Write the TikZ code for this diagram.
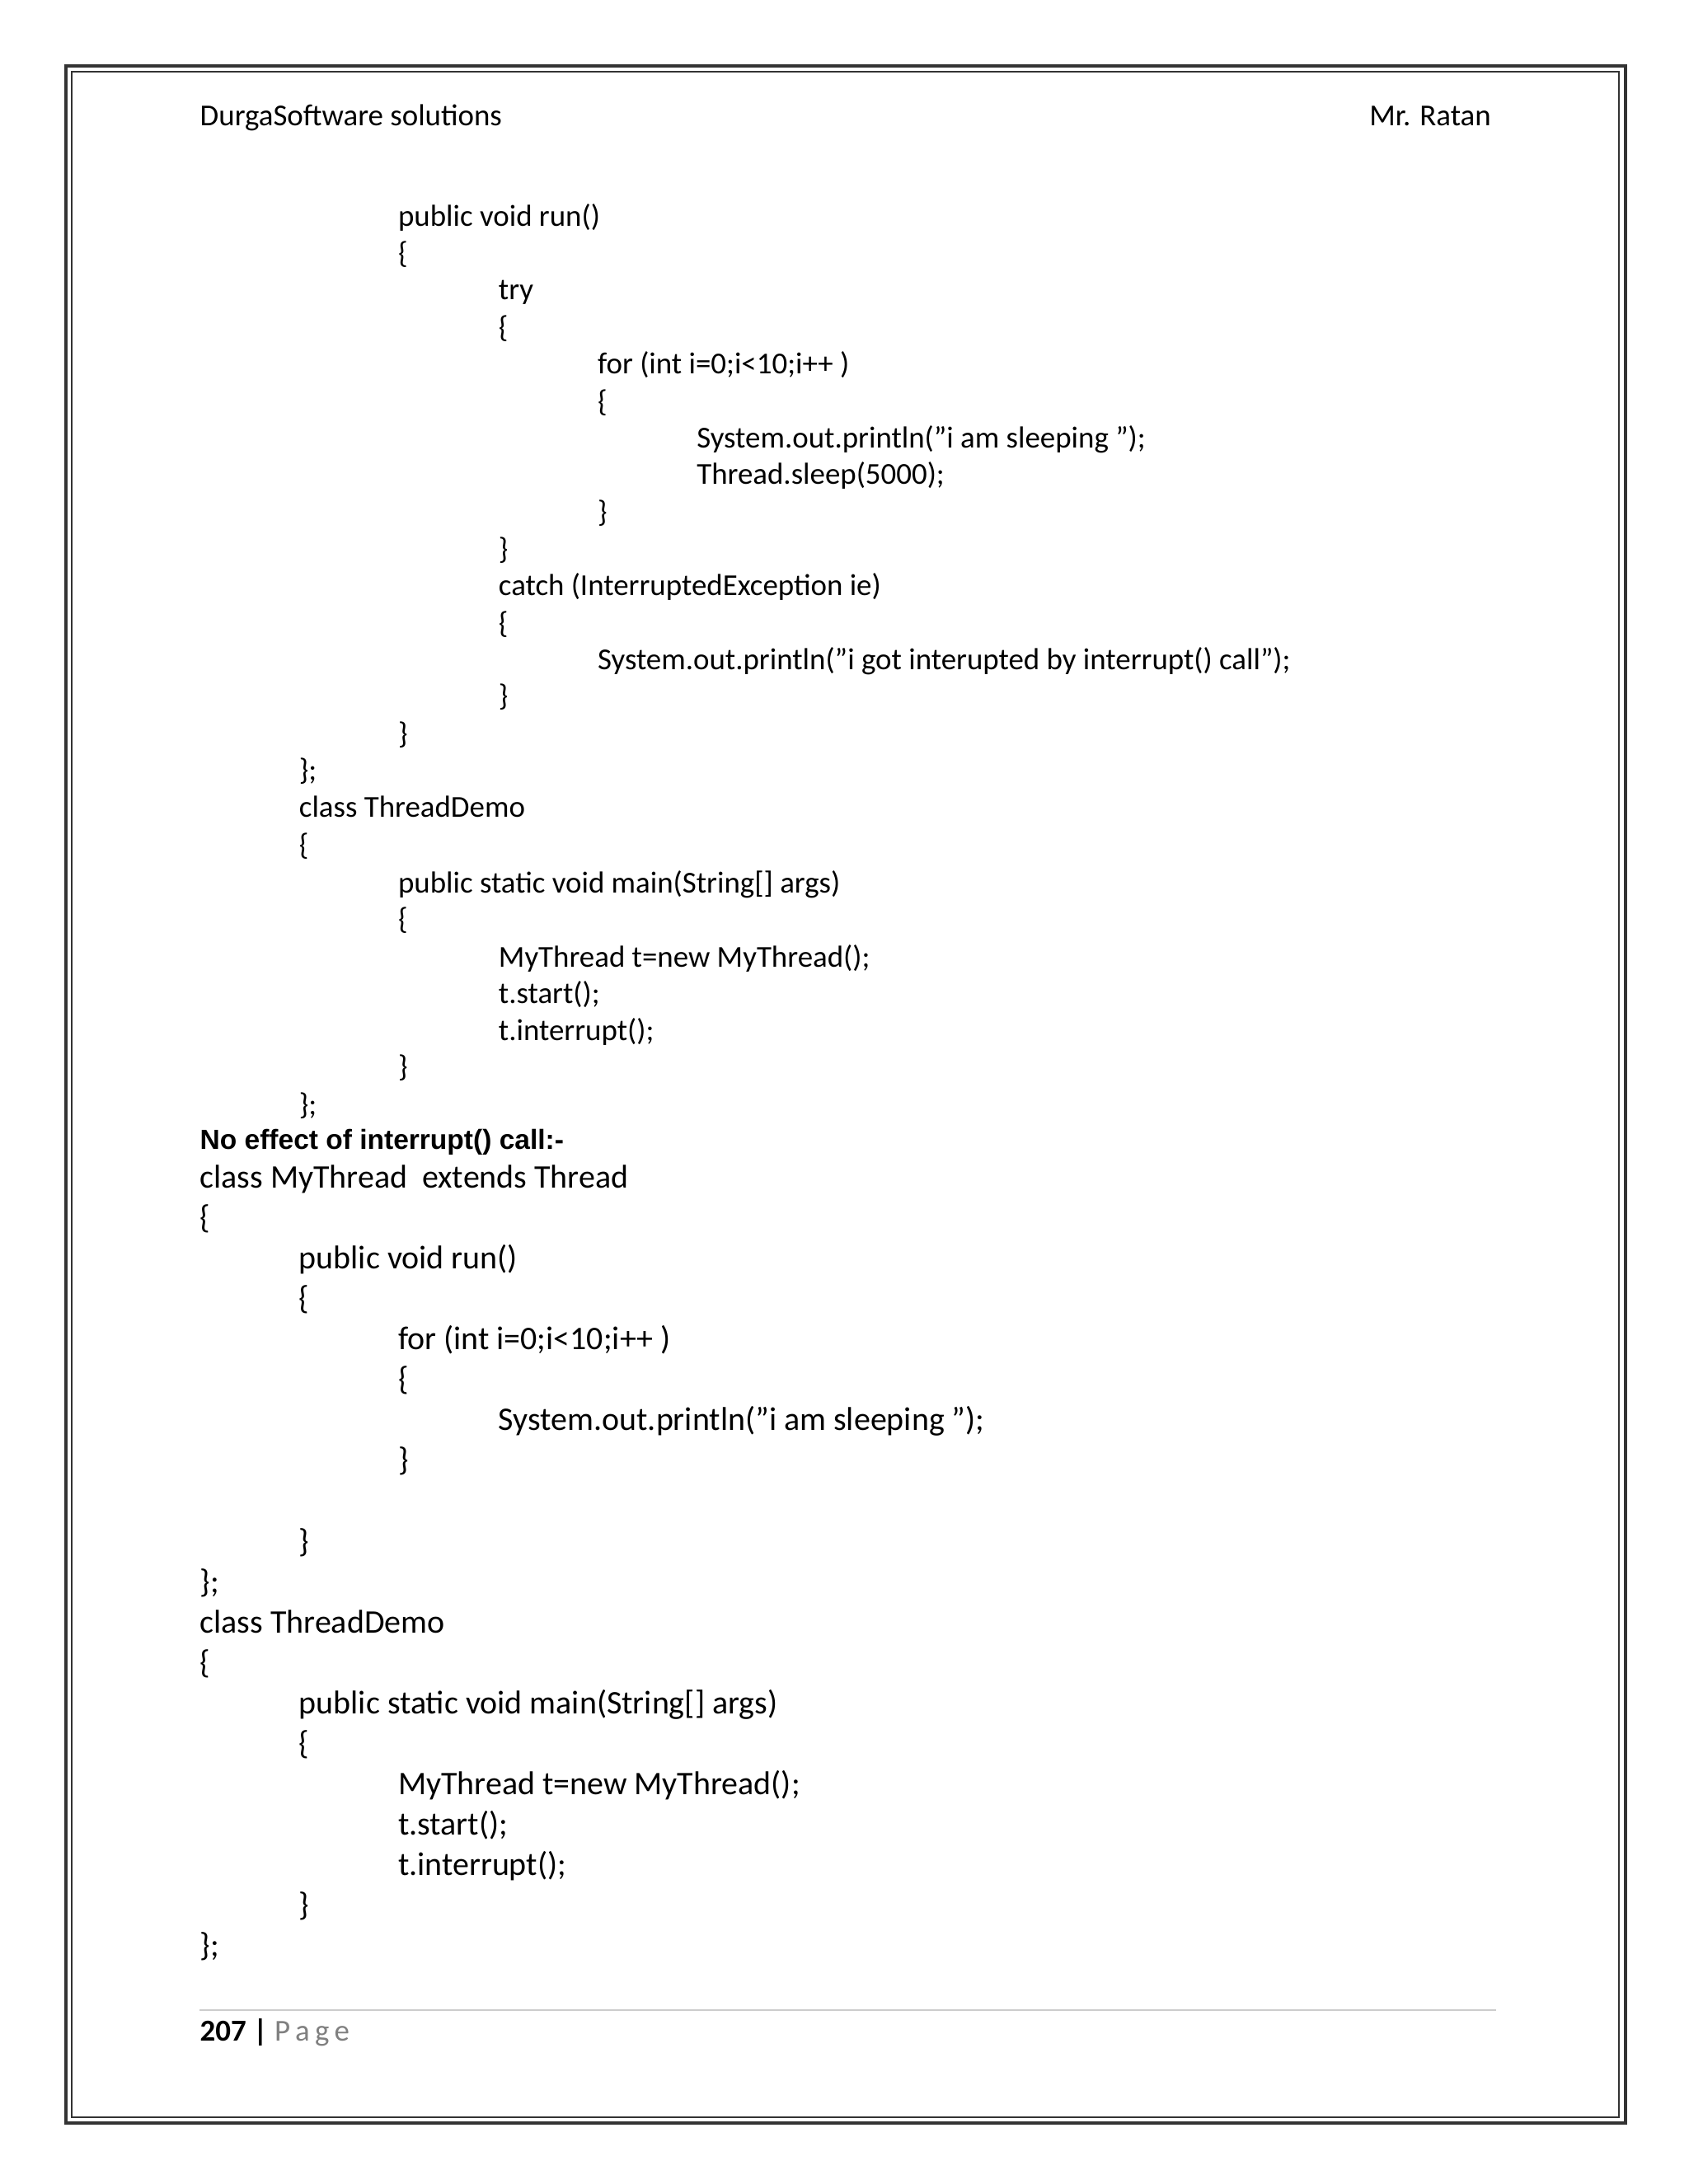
\documentclass[tikz,border=0pt]{standalone}
\usepackage{fontspec}
\setmainfont{Carlito}
\newfontfamily\arialb{Liberation Sans}
\begin{document}
\begin{tikzpicture}[x=0.5pt,y=-0.5pt,
  ca/.style={anchor=base west,inner sep=0pt,font=\fontsize{10.9}{12}\selectfont},
  cb/.style={anchor=base west,inner sep=0pt,font=\fontsize{11.8}{13}\selectfont}]
\useasboundingbox (0,0) rectangle (1210,1565.6);
\fill[white] (0,0) rectangle (1210,1565.6);
\draw[line width=1.2pt,black!80] (47,47) rectangle (1165,1522);
\draw[line width=0.6pt,black!80] (51.5,51.5) rectangle (1160.5,1517.5);
\node[ca] (h1) at (143,90) {DurgaSoftware solutions};
\node[ca,anchor=base east] (h2) at (1069,90) {Mr. Ratan};
\foreach \y/\x/\t [count=\i] in {
156/285/{public void run()},183/285/\{,209/357/try,236/357/\{,
262/428/{for (int i=0;i<10;i++ )},289/428/\{,
315/499/{System.out.println("i am sleeping ");},341/499/{Thread.sleep(5000);},
368/428/\},395/357/\},421/357/{catch (InterruptedException ie)},448/357/\{,
474/428/{System.out.println("i got interupted by interrupt() call");},
500/357/\},527/285/\},553/214/\};,580/214/{class ThreadDemo},607/214/\{,
634/285/{public static void main(String[] args)},660/285/\{,
687/357/{MyThread t=new MyThread();},713/357/{t.start();},740/357/{t.interrupt();},
766/285/\},793/214/\};}
  \node[ca] (a\i) at (\x,\y+6) {\t};
\node[anchor=base west,inner sep=0pt,font=\arialb\bfseries\fontsize{9.9}{11}\selectfont] (bh) at (143,824) {No effect of interrupt() call:-};
\foreach \y/\x/\t [count=\i] in {
845/143/{class MyThread\ \ extends Thread},874/143/\{,903/214/{public void run()},932/214/\{,
961/285/{for (int i=0;i<10;i++ )},990/285/\{,1019/357/{System.out.println("i am sleeping ");},
1048/285/\},1106/214/\},1135/143/\};,1164/143/{class ThreadDemo},1193/143/\{,
1222/214/{public static void main(String[] args)},1251/214/\{,
1280/285/{MyThread t=new MyThread();},1309/285/{t.start();},1338/285/{t.interrupt();},
1367/214/\},1396/143/\};}
  \node[cb] (b\i) at (\x,\y+6.5) {\t};
\draw[black!20,line width=0.5pt] (143,1441) -- (1072,1441);
\node[ca] (pg) at (143,1463) {\textbf{207 |} \textcolor{black!50}{P\,a\,g\,e}};
\end{tikzpicture}
\end{document}
